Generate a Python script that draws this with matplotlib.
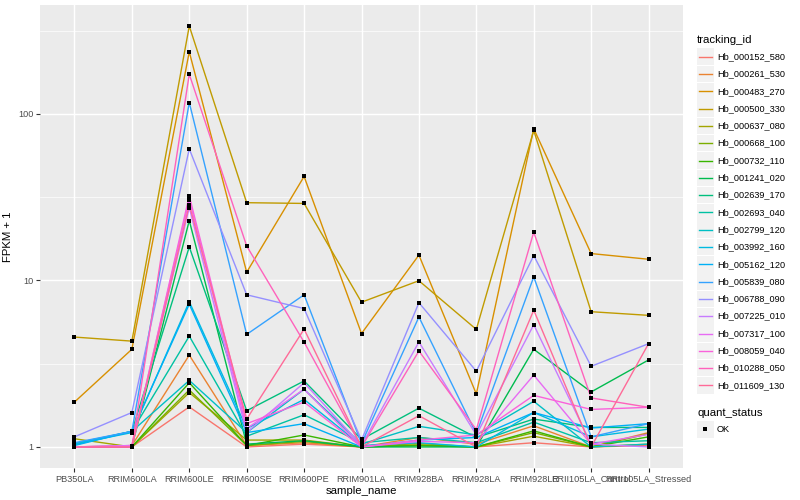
import numpy as np
import matplotlib
matplotlib.use("Agg")
import matplotlib.pyplot as plt
from matplotlib.patches import Rectangle
from matplotlib.lines import Line2D

plt.rcParams['font.family'] = ['Liberation Sans', 'DejaVu Sans']

samples = ['PB350LA', 'RRIM600LA', 'RRIM600LE', 'RRIM600SE', 'RRIM600PE',
           'RRIM901LA', 'RRIM928BA', 'RRIM928LA', 'RRIM928LE',
           'RRII105LA_Control', 'RRII105LA_Stressed']

tracking_ids = ['Hb_000152_580', 'Hb_000261_530', 'Hb_000483_270', 'Hb_000500_330',
                'Hb_000637_080', 'Hb_000668_100', 'Hb_000732_110', 'Hb_001241_020',
                'Hb_002639_170', 'Hb_002693_040', 'Hb_002799_120', 'Hb_003992_160',
                'Hb_005162_120', 'Hb_005839_080', 'Hb_006788_090', 'Hb_007225_010',
                'Hb_007317_100', 'Hb_008059_040', 'Hb_010288_050', 'Hb_011609_130']

# FPKM + 1, one row per tracking_id, columns follow samples
hb_000152_580 = [1.00, 1.00, 1.74, 1.00, 1.04, 1.00, 1.02, 1.00, 1.06, 1.00, 1.02]
hb_000261_530 = [1.00, 1.02, 3.56, 1.02, 1.06, 1.00, 1.14, 1.04, 1.34, 1.00, 1.22]
hb_000483_270 = [1.86, 3.86, 236.0, 11.2, 42.1, 4.80, 14.2, 2.08, 81.5, 14.5, 13.4]
hb_000500_330 = [4.57, 4.32, 337.0, 29.3, 29.0, 7.40, 9.96, 5.08, 79.5, 6.49, 6.17]
hb_000637_080 = [1.12, 1.00, 2.12, 1.10, 1.10, 1.00, 1.05, 1.00, 1.16, 1.00, 1.04]
hb_000668_100 = [1.00, 1.00, 2.20, 1.02, 1.08, 1.00, 1.03, 1.00, 1.22, 1.00, 1.20]
hb_000732_110 = [1.00, 1.00, 2.43, 1.02, 1.18, 1.00, 1.02, 1.00, 1.25, 1.00, 1.15]
hb_001241_020 = [1.00, 1.00, 22.9, 1.04, 1.09, 1.00, 1.00, 1.00, 3.86, 2.14, 3.33]
hb_002639_170 = [1.03, 1.24, 15.9, 1.65, 2.49, 1.11, 1.71, 1.14, 1.47, 1.31, 1.31]
hb_002693_040 = [1.04, 1.24, 4.63, 1.16, 1.56, 1.06, 1.14, 1.06, 1.41, 1.06, 1.09]
hb_002799_120 = [1.05, 1.24, 2.51, 1.22, 2.22, 1.04, 1.33, 1.18, 1.88, 1.00, 1.04]
hb_003992_160 = [1.04, 1.22, 7.45, 1.29, 1.93, 1.02, 1.06, 1.00, 1.61, 1.15, 1.28]
hb_005162_120 = [1.02, 1.24, 7.20, 1.22, 1.38, 1.00, 1.10, 1.14, 1.61, 1.30, 1.38]
hb_005839_080 = [1.06, 1.24, 117.0, 4.74, 8.20, 1.05, 6.03, 1.20, 10.5, 1.15, 1.38]
hb_006788_090 = [1.15, 1.61, 61.7, 8.20, 6.78, 1.10, 7.35, 2.85, 14.1, 3.05, 4.17]
hb_007225_010 = [1.00, 1.02, 27.4, 1.22, 2.43, 1.02, 4.27, 1.18, 5.42, 1.04, 1.00]
hb_007317_100 = [1.00, 1.02, 30.6, 1.29, 2.22, 1.00, 1.08, 1.06, 2.70, 1.04, 1.19]
hb_008059_040 = [1.00, 1.00, 32.2, 1.38, 1.86, 1.00, 1.10, 1.18, 2.04, 1.68, 1.73]
hb_010288_050 = [1.00, 1.00, 173.0, 16.1, 4.26, 1.00, 3.77, 1.27, 19.5, 1.97, 1.73]
hb_011609_130 = [1.00, 1.00, 28.5, 1.47, 5.10, 1.00, 1.54, 1.00, 6.63, 1.00, 4.17]

series = [hb_000152_580, hb_000261_530, hb_000483_270, hb_000500_330, hb_000637_080,
          hb_000668_100, hb_000732_110, hb_001241_020, hb_002639_170, hb_002693_040,
          hb_002799_120, hb_003992_160, hb_005162_120, hb_005839_080, hb_006788_090,
          hb_007225_010, hb_007317_100, hb_008059_040, hb_010288_050, hb_011609_130]
n = len(series)


def hcl_color(h, c=100, l=65):
    # polar Luv -> sRGB, like R's hcl()
    xn, yn, zn = 95.047, 100.0, 108.883
    un = 4 * xn / (xn + 15 * yn + 3 * zn)
    vn = 9 * yn / (xn + 15 * yn + 3 * zn)
    u = c * np.cos(np.radians(h))
    v = c * np.sin(np.radians(h))
    y = yn * ((l + 16) / 116) ** 3
    up = u / (13 * l) + un
    vp = v / (13 * l) + vn
    x = y * 9 * up / (4 * vp)
    z = y * (12 - 3 * up - 20 * vp) / (4 * vp)
    xyz = np.array([x, y, z]) / 100
    m = np.array([[3.240479, -1.537150, -0.498535],
                  [-0.969256, 1.875992, 0.041556],
                  [0.055648, -0.204043, 1.057311]])
    rgb = m @ xyz
    rgb = np.where(rgb <= 0.0031308, 12.92 * rgb,
                   1.055 * np.power(np.clip(rgb, 0, None), 1 / 2.4) - 0.055)
    return tuple(np.clip(rgb, 0, 1))


hues = np.linspace(15, 375, n + 1)[:-1]
colors = [hcl_color(h) for h in hues]

W, H = 800, 500
fig = plt.figure(figsize=(8, 5), dpi=100)
ax = fig.add_axes([40 / W, 1 - 468 / H, 643 / W, 463 / H])
ax.set_facecolor('#EBEBEB')

x = np.arange(len(samples))
for vals, col in zip(series, colors):
    ax.plot(x, vals, color=col, lw=1.0, zorder=3)
for vals in series:
    ax.plot(x, vals, 's', color='black', ms=3.0, mew=0, zorder=4)

ax.set_yscale('log')
lo, hi = 0.0, np.log10(max(max(s) for s in series))
pad = (hi - lo) * 0.05
ax.set_ylim(10 ** (lo - pad), 10 ** (hi + pad))
ax.set_xlim(-0.6, len(samples) - 1 + 0.6)

ax.set_yticks([1, 10, 100])
ax.set_yticklabels(['1', '10', '100'])
ax.set_yticks([10 ** 0.5, 10 ** 1.5, 10 ** 2.5], minor=True)
ax.set_yticklabels([], minor=True)
ax.set_xticks(x)
ax.set_xticklabels(samples)

ax.grid(which='major', color='white', lw=1.05, zorder=0)
ax.grid(which='minor', axis='y', color='white', lw=0.5, zorder=0)
ax.set_axisbelow(True)
for sp in ax.spines.values():
    sp.set_visible(False)
ax.tick_params(which='major', length=2.7, width=0.8, color='#333333',
               labelsize=6.6, labelcolor='#4D4D4D', pad=2)
ax.tick_params(which='minor', length=0)

ax.set_xlabel('sample_name', fontsize=8.2, labelpad=2)
ax.set_ylabel('FPKM + 1', fontsize=8.2, labelpad=4)

# legend drawn in pixel coordinates
lax = fig.add_axes([0, 0, 1, 1])
lax.set_xlim(0, W)
lax.set_ylim(H, 0)
lax.axis('off')

lax.text(697, 40, 'tracking_id', fontsize=8.2, va='center', ha='left')
row0, step = 56.7, 17.3
for i, (tid, col) in enumerate(zip(tracking_ids, colors)):
    yc = row0 + i * step
    lax.add_patch(Rectangle((697, yc - 8.3), 16.6, 16.6, color='#F2F2F2', lw=0))
    lax.add_line(Line2D([698.5, 711.5], [yc, yc], color=col, lw=1.0))
    lax.text(717, yc, tid, fontsize=6.6, va='center', ha='left')

lax.text(697, 412.5, 'quant_status', fontsize=8.2, va='center', ha='left')
lax.add_patch(Rectangle((697, 429.3 - 8.3), 16.6, 16.6, color='#F2F2F2', lw=0))
lax.add_line(Line2D([705], [429.3], marker='s', color='black', ms=3.0, mew=0))
lax.text(717, 429.3, 'OK', fontsize=6.6, va='center', ha='left')

fig.savefig('out.png', dpi=100)
